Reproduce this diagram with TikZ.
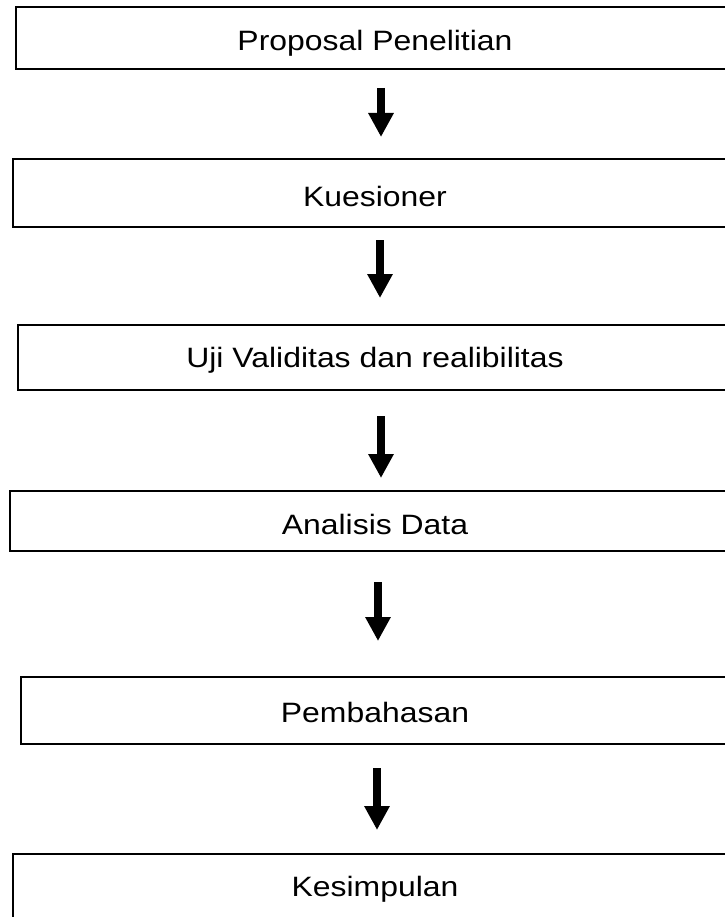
\documentclass[tikz,border=0pt]{standalone}
\usepackage{fontspec}
\setmainfont{Liberation Sans}
\newfontfamily\stagefont[FakeStretch=1.14]{Liberation Sans}
\usetikzlibrary{arrows.meta}
\begin{document}
\begin{tikzpicture}[x=1pt,y=-1pt,
  stagebox/.style={draw=black,line width=2.6pt,fill=white},
  stagelabel/.style={font=\stagefont\fontsize{28}{32}\selectfont,inner sep=0pt},
  flowarrow/.style={line width=8pt,-{Triangle[width=24pt,length=24pt]}}]
\useasboundingbox[fill=white] (0,0) rectangle (724,917);
% stage boxes (right edges run past the page)
\draw[stagebox] (16,7) rectangle (745,69);
\draw[stagebox] (13,159) rectangle (745,227);
\draw[stagebox] (18,325) rectangle (745,390);
\draw[stagebox] (10,491) rectangle (745,551);
\draw[stagebox] (21,677) rectangle (745,744);
\draw[stagebox] (13,854) rectangle (745,940);
% labels
\node[stagelabel] (p1) at (375,43) {Proposal Penelitian};
\node[stagelabel] (p2) at (375,196) {Kuesioner};
\node[stagelabel] (p3) at (375,360) {Uji Validitas dan realibilitas};
\node[stagelabel] (p4) at (375,524) {Analisis Data};
\node[stagelabel] (p5) at (375,712) {Pembahasan};
\node[stagelabel] (p6) at (375,889) {Kesimpulan};
% arrow end points
\coordinate (a1s) at (381,88);  \coordinate (a1e) at (381,137);
\coordinate (a2s) at (380,240); \coordinate (a2e) at (380,298);
\coordinate (a3s) at (381,416); \coordinate (a3e) at (381,478);
\coordinate (a4s) at (378,582); \coordinate (a4e) at (378,641);
\coordinate (a5s) at (377,768); \coordinate (a5e) at (377,830);
\draw[flowarrow] (a1s) -- (a1e);
\draw[flowarrow] (a2s) -- (a2e);
\draw[flowarrow] (a3s) -- (a3e);
\draw[flowarrow] (a4s) -- (a4e);
\draw[flowarrow] (a5s) -- (a5e);
\end{tikzpicture}
\end{document}
